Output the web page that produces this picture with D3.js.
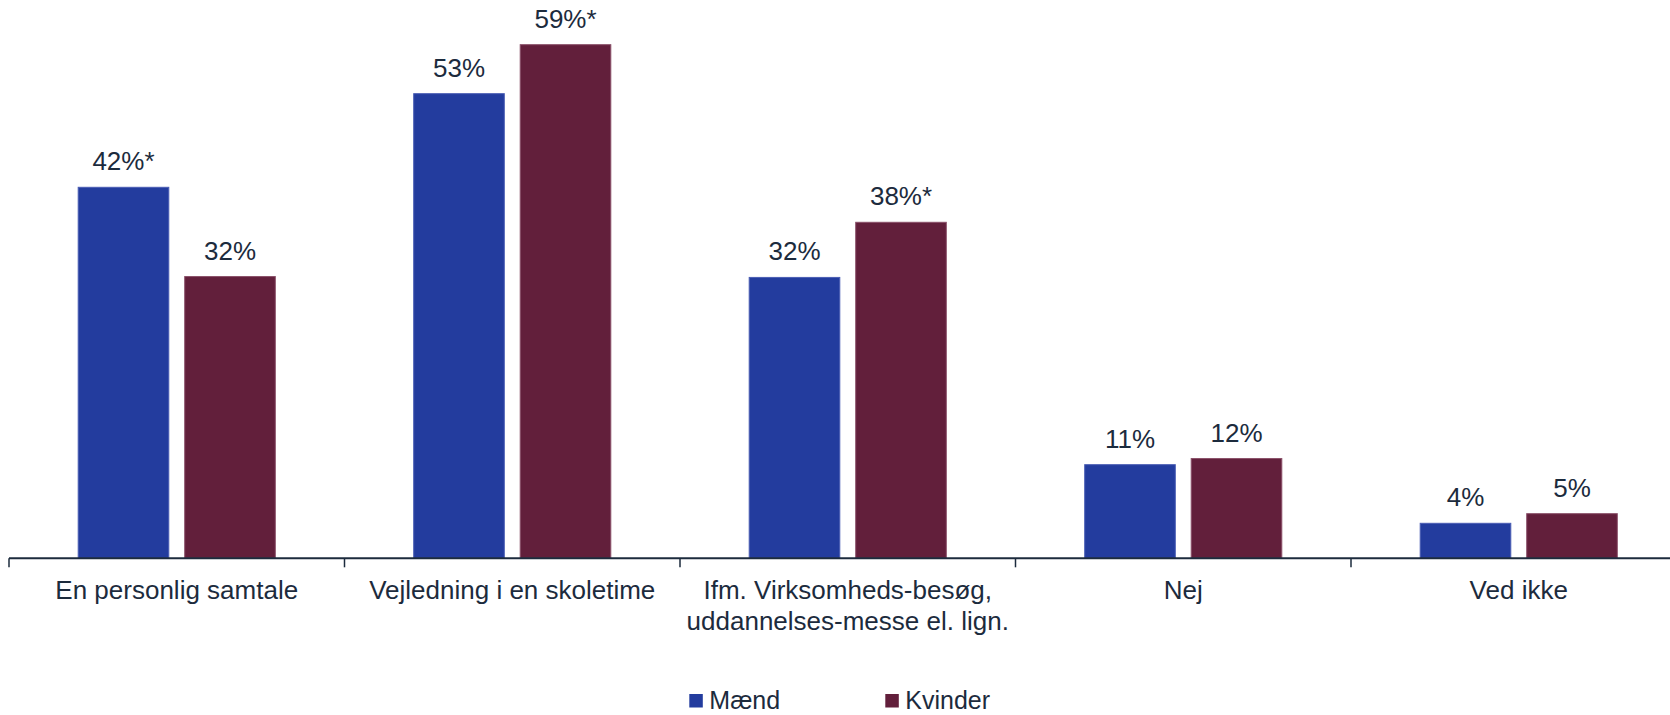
<!DOCTYPE html>
<html>
<head>
<meta charset="utf-8">
<script src="https://cdn.jsdelivr.net/npm/d3@7"></script>
<style>
html,body{margin:0;padding:0;background:#fff;}
svg{display:block;font-family:"Liberation Sans",Arial,sans-serif;}
</style>
</head>
<body>
<svg id="chart" width="1670" height="715"></svg>
<script>
const categories = ["En personlig samtale", "Vejledning i en skoletime", "Ifm. Virksomheds-besøg,\nuddannelses-messe el. lign.", "Nej", "Ved ikke"];
const seriesNames = ["Mænd", "Kvinder"];
const maendValues = [42.4, 53.1, 32.1, 10.7, 4.0];
const kvinderValues = [32.2, 58.7, 38.4, 11.4, 5.1];
const maendLabels = ["42%*", "53%", "32%", "11%", "4%"];
const kvinderLabels = ["32%", "59%*", "38%*", "12%", "5%"];
const colors = ["#233c9e", "#621f3b"];
const strokes = ["#4a5db4", "#8a5069"];

const W = 1670, H = 715;
const baseY = 558.3;
const svg = d3.select("#chart");
const textColor = "#1c2b3d";

const x0 = d3.scaleBand().domain(categories).range([9, 9 + 5 * 335.5]).paddingInner(0).paddingOuter(0);
const x1 = d3.scaleBand().domain(seriesNames).range([0, x0.bandwidth()]).paddingInner(0.14).paddingOuter(0.645);
const y = d3.scaleLinear().domain([0, 60]).range([baseY, baseY - 60 * 8.75]);

const rows = categories.map((c, i) => ({
  cat: c,
  vals: [
    {s: seriesNames[0], v: maendValues[i], lab: maendLabels[i], k: 0},
    {s: seriesNames[1], v: kvinderValues[i], lab: kvinderLabels[i], k: 1}
  ]
}));

const g = svg.append("g");
const grp = g.selectAll("g.grp").data(rows).join("g")
  .attr("class", "grp")
  .attr("transform", d => `translate(${x0(d.cat)},0)`);

grp.selectAll("rect").data(d => d.vals).join("rect")
  .attr("x", d => x1(d.s) + 0.5)
  .attr("width", x1.bandwidth() - 1)
  .attr("y", d => y(d.v))
  .attr("height", d => baseY - y(d.v))
  .attr("fill", d => colors[d.k])
  .attr("stroke", d => strokes[d.k])
  .attr("stroke-width", 1);

grp.selectAll("text.val").data(d => d.vals).join("text")
  .attr("class", "val")
  .attr("x", d => x1(d.s) + x1.bandwidth() / 2)
  .attr("y", d => y(d.v) - 17)
  .attr("text-anchor", "middle")
  .attr("font-size", 26)
  .attr("fill", textColor)
  .text(d => d.lab);

// axis
const ax = svg.append("g");
ax.append("line")
  .attr("x1", x0.range()[0]).attr("x2", W)
  .attr("y1", baseY).attr("y2", baseY)
  .attr("stroke", textColor).attr("stroke-width", 2);
const tickPos = categories.map(c => x0(c)).concat([x0.range()[1]]);
ax.selectAll("line.tick").data(tickPos).join("line")
  .attr("class", "tick")
  .attr("x1", d => d).attr("x2", d => d)
  .attr("y1", baseY).attr("y2", baseY + 9)
  .attr("stroke", textColor).attr("stroke-width", 1.5);

const catText = ax.selectAll("text.cat").data(categories).join("text")
  .attr("class", "cat")
  .attr("x", d => x0(d) + x0.bandwidth() / 2)
  .attr("y", 599)
  .attr("text-anchor", "middle")
  .attr("font-size", 26)
  .attr("fill", textColor);
catText.each(function(d) {
  const lines = d.split("\n");
  d3.select(this).selectAll("tspan").data(lines).join("tspan")
    .attr("x", x0(d) + x0.bandwidth() / 2)
    .attr("dy", (l, i) => i === 0 ? 0 : 31)
    .text(l => l);
});

// legend
const legendX = [689.3, 885.3];
const lg = svg.append("g").selectAll("g").data(seriesNames).join("g")
  .attr("transform", (d, i) => `translate(${legendX[i]},694)`);
lg.append("rect").attr("width", 13.5).attr("height", 13.5)
  .attr("fill", (d, i) => colors[i]);
lg.append("text").attr("x", 20).attr("y", 15)
  .attr("font-size", 25).attr("fill", textColor)
  .text(d => d);
</script>
</body>
</html>
